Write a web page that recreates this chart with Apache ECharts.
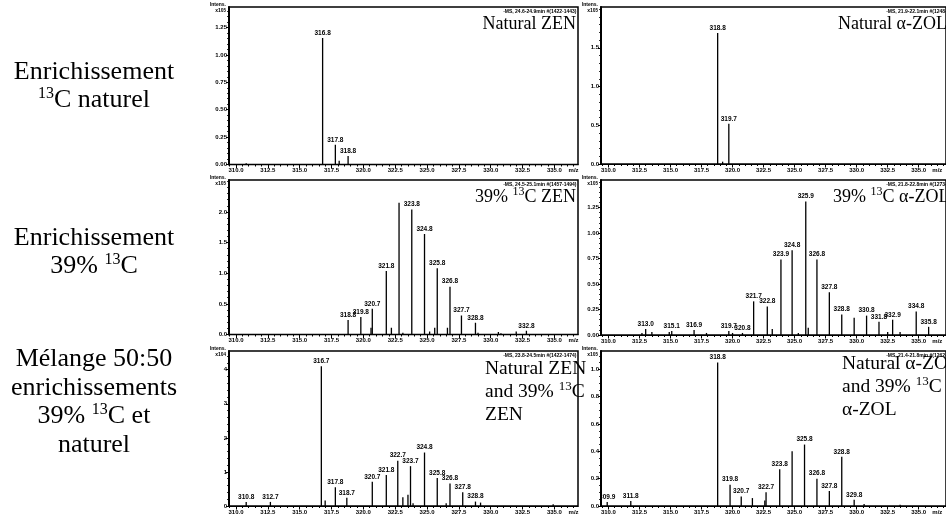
<!DOCTYPE html>
<html>
<head>
<meta charset="utf-8">
<script src="https://cdn.jsdelivr.net/npm/echarts/dist/echarts.min.js"></script>
<style>
html,body{margin:0;padding:0;background:#fff;}
#chart{width:946px;height:515px;}
</style>
</head>
<body>
<div id="chart"></div>
<script>
// ---------- DATA (m/z, intensity, peak label) ----------
// Natural ZEN (x10^5)
const natZenMz  = [310.8, 316.8, 317.8, 318.1, 318.8];
const natZenInt = [0.012, 1.155, 0.18, 0.035, 0.078];
const natZenLab = ['', '316.8', '317.8', '', '318.8'];

// Natural alpha-ZOL (x10^5)
const natZolMz  = [318.8, 319.2, 319.7];
const natZolInt = [1.69, 0.03, 0.52];
const natZolLab = ['318.8', '', '319.7'];

// 39% 13C ZEN (x10^5)
const encZenMz  = [318.8, 319.8, 320.6, 320.7, 321.8, 322.2, 322.8, 323.1, 323.8, 324.8, 325.2, 325.6, 325.8, 326.6, 326.8, 327.7, 328.8, 329.0, 330.6, 330.8, 332.0, 332.8];
const encZenInt = [0.236, 0.285, 0.11, 0.42, 1.034, 0.11, 2.15, 0.03, 2.04, 1.64, 0.05, 0.11, 1.08, 0.11, 0.78, 0.31, 0.19, 0.03, 0.04, 0.02, 0.05, 0.06];
const encZenLab = ['318.8','319.8','','320.7','321.8','','','','323.8','324.8','','','325.8','','326.8','327.7','328.8','','','','','332.8'];

// 39% 13C alpha-ZOL (x10^5)
const encZolMz  = [312.7, 313.0, 313.5, 314.9, 315.1, 316.9, 317.9, 319.7, 320.0, 320.8, 321.7, 322.8, 323.2, 323.9, 324.8, 325.3, 325.9, 326.1, 326.8, 327.8, 328.8, 329.8, 330.8, 331.8, 332.5, 332.9, 333.5, 334.8, 335.8];
const encZolInt = [0.02, 0.06, 0.03, 0.03, 0.04, 0.05, 0.02, 0.04, 0.02, 0.02, 0.33, 0.28, 0.06, 0.74, 0.83, 0.02, 1.31, 0.07, 0.74, 0.42, 0.20, 0.17, 0.19, 0.13, 0.03, 0.15, 0.03, 0.23, 0.08];
const encZolLab = ['','313.0','','','315.1','316.9','','319.7','','320.8','321.7','322.8','','323.9','324.8','','325.9','','326.8','327.8','328.8','','330.8','331.8','','332.9','','334.8','335.8'];

// Mix natural + 39% 13C ZEN (x10^4)
const mixZenMz  = [310.8, 312.7, 316.7, 317.0, 317.8, 318.7, 320.7, 321.8, 322.7, 323.1, 323.5, 323.7, 323.9, 324.8, 325.8, 326.5, 326.8, 327.8, 328.8, 329.2, 334.9];
const mixZenInt = [0.12, 0.12, 4.1, 0.16, 0.55, 0.24, 0.71, 0.91, 1.33, 0.26, 0.33, 1.17, 0.08, 1.57, 0.82, 0.08, 0.66, 0.40, 0.13, 0.10, 0.05];
const mixZenLab = ['310.8','312.7','316.7','','317.8','318.7','320.7','321.8','322.7','','','323.7','','324.8','325.8','','326.8','327.8','328.8','',''];

// Mix natural + 39% 13C alpha-ZOL (x10^5)
const mixZolMz  = [309.9, 311.8, 318.8, 319.8, 320.7, 321.6, 322.6, 322.7, 323.8, 324.8, 325.8, 326.8, 327.8, 328.8, 329.8, 330.6, 333.5];
const mixZolInt = [0.03, 0.036, 1.05, 0.156, 0.07, 0.058, 0.04, 0.10, 0.27, 0.40, 0.45, 0.20, 0.11, 0.36, 0.045, 0.015, 0.01];
const mixZolLab = ['309.9','311.8','318.8','319.8','320.7','','','322.7','323.8','','325.8','326.8','327.8','328.8','329.8','',''];

// Tick labels
const xTickLabels = [310.0, 312.5, 315.0, 317.5, 320.0, 322.5, 325.0, 327.5, 330.0, 332.5, 335.0];
const yTicksNatZen = [0, 0.25, 0.50, 0.75, 1.00, 1.25];
const yTicksNatZol = [0, 0.5, 1.0, 1.5];
const yTicksEncZen = [0, 0.5, 1.0, 1.5, 2.0];
const yTicksEncZol = [0, 0.25, 0.50, 0.75, 1.00, 1.25];
const yTicksMixZen = [0, 1, 2, 3, 4];
const yTicksMixZol = [0, 0.2, 0.4, 0.6, 0.8, 1.0];

// ---------- LAYOUT ----------
const SERIF = '"Liberation Serif","Times New Roman",serif';
const SANS = '"Liberation Sans",Arial,sans-serif';

const panels = [
  {mz:natZenMz, it:natZenInt, lab:natZenLab, left:229, top:7,   width:349, height:157.5, xMin:309.45, xMax:336.85, yMax:1.437, yTicks:yTicksNatZen, dec:2, minor:0.05, exp:'5', header:'-MS, 24.6-24.9min #(1422-1443)'},
  {mz:natZolMz, it:natZolInt, lab:natZolLab, left:601, top:7,   width:360, height:157,   xMin:309.4,  xMax:337.2,  yMax:2.026, yTicks:yTicksNatZol, dec:1, minor:0.1,  exp:'5', header:'-MS, 21.9-22.1min #(1248-1262)'},
  {mz:encZenMz, it:encZenInt, lab:encZenLab, left:229, top:180, width:349, height:154.5, xMin:309.45, xMax:336.85, yMax:2.52,  yTicks:yTicksEncZen, dec:1, minor:0.1,  exp:'5', header:'-MS, 24.5-25.1min #(1457-1494)'},
  {mz:encZolMz, it:encZolInt, lab:encZolLab, left:601, top:180, width:360, height:155,   xMin:309.4,  xMax:337.2,  yMax:1.52,  yTicks:yTicksEncZol, dec:2, minor:0.05, exp:'5', header:'-MS, 21.8-22.8min #(1273-1330)'},
  {mz:mixZenMz, it:mixZenInt, lab:mixZenLab, left:229, top:351, width:349, height:159,   xMin:309.45, xMax:336.85, yMax:4.55,  yTicks:yTicksMixZen, dec:0, minor:0.2,  exp:'4', header:'-MS, 23.8-24.5min #(1422-1474)'},
  {mz:mixZolMz, it:mixZolInt, lab:mixZolLab, left:601, top:351, width:360, height:159,   xMin:309.4,  xMax:337.2,  yMax:1.135, yTicks:yTicksMixZol, dec:1, minor:0.05, exp:'5', header:'-MS, 21.4-21.8min #(1262-1286)'}
];

function range(a, b, step) {
  const out = [];
  for (let k = 0; a + k * step <= b + 1e-9; k++) out.push(Math.round((a + k * step) * 1000) / 1000);
  return out;
}
const xMinorTicks = range(309.5, 337, 0.5);

function makeRender(labels) {
  return function (params, api) {
    const x = api.value(0), y = api.value(1);
    const p0 = api.coord([x, 0]);
    const p1 = api.coord([x, y]);
    const children = [{
      type: 'line',
      shape: {x1: p0[0], y1: p0[1], x2: p1[0], y2: p1[1]},
      style: {stroke: '#000', lineWidth: 1.3}
    }];
    const t = labels[params.dataIndex];
    if (t) {
      children.push({
        type: 'text',
        style: {text: t, x: p1[0], y: p1[1] - 1.5, align: 'center', verticalAlign: 'bottom',
                textAlign: 'center', textVerticalAlign: 'bottom',
                font: 'bold 6.5px ' + SANS, fill: '#000'}
      });
    }
    return {type: 'group', children: children};
  };
}

const option = {
  animation: false,
  backgroundColor: '#fff',
  grid: [], xAxis: [], yAxis: [], series: [], graphic: []
};

const axLab = {fontSize: 6, fontWeight: 'bold', fontFamily: SANS, color: '#000'};

panels.forEach(function (p, i) {
  option.grid.push({left: p.left, top: p.top, width: p.width, height: p.height,
    show: true, borderColor: '#000', borderWidth: 1.5, backgroundColor: 'transparent'});
  option.xAxis.push({type: 'value', gridIndex: i, min: p.xMin, max: p.xMax, position: 'bottom',
    axisLine: {show: true, onZero: false, lineStyle: {color: '#000', width: 1.2}},
    axisTick: {show: true, customValues: xTickLabels, length: 3.5, lineStyle: {color: '#000', width: 1}},
    axisLabel: Object.assign({show: true, margin: 3, customValues: xTickLabels.concat([336.5]),
      formatter: function (v) { return v > 336 ? 'm/z' : Number(v).toFixed(1); }}, axLab),
    splitLine: {show: false}});
  option.xAxis.push({type: 'value', gridIndex: i, min: p.xMin, max: p.xMax, position: 'bottom',
    axisLine: {show: false, onZero: false},
    axisTick: {show: true, customValues: xMinorTicks, length: 2, lineStyle: {color: '#000', width: 1}},
    axisLabel: {show: false}, splitLine: {show: false}});
  option.yAxis.push({type: 'value', gridIndex: i, min: 0, max: p.yMax, position: 'left',
    axisLine: {show: true, onZero: false, lineStyle: {color: '#000', width: 2}},
    axisTick: {show: true, customValues: p.yTicks, length: 3, lineStyle: {color: '#000', width: 1}},
    axisLabel: Object.assign({show: true, margin: 2, customValues: p.yTicks,
      formatter: function (v) { return Number(v).toFixed(p.dec); }}, axLab),
    splitLine: {show: false}});
  option.yAxis.push({type: 'value', gridIndex: i, min: 0, max: p.yMax, position: 'left',
    axisLine: {show: false, onZero: false},
    axisTick: {show: true, customValues: range(0, p.yMax, p.minor), length: 1.8, lineStyle: {color: '#000', width: 1}},
    axisLabel: {show: false}, splitLine: {show: false}});

  option.series.push({
    type: 'custom', xAxisIndex: 2 * i, yAxisIndex: 2 * i,
    data: p.mz.map(function (m, k) { return [m, p.it[k]]; }),
    encode: {x: 0, y: 1},
    renderItem: makeRender(p.lab),
    clip: true
  });

  option.graphic.push({type: 'text', x: p.left - 3, y: Math.max(p.top - 4.5, 0.5),
    style: {text: 'Intens.', font: 'bold 5px ' + SANS, fill: '#000', align: 'right', textAlign: 'right', verticalAlign: 'top', textVerticalAlign: 'top'}});
  option.graphic.push({type: 'text', x: p.left - 3, y: Math.max(p.top - 4.5, 0.5) + 6,
    style: {text: 'x10{s|' + p.exp + '}', font: 'bold 5px ' + SANS, fill: '#000', align: 'right', textAlign: 'right', verticalAlign: 'top', textVerticalAlign: 'top',
      rich: {s: {fontSize: 4.5, fontWeight: 'bold', fontFamily: SANS, verticalAlign: 'top', lineHeight: 4}}}});
  option.graphic.push({type: 'text', x: p.left + p.width - 1.5, y: p.top + 2.5,
    style: {text: p.header, font: 'bold 5px ' + SANS, fill: '#000', align: 'right', textAlign: 'right', verticalAlign: 'top', textVerticalAlign: 'top'}});
});

function richRow(sz, sup, lh) {
  return {n: {fontSize: sz, fontFamily: SERIF, lineHeight: lh, fill: '#000', color: '#000'},
          s: {fontSize: sup, fontFamily: SERIF, lineHeight: sup, verticalAlign: 'top', fill: '#000', color: '#000'}};
}
const rowRich = richRow(26, 16, 28.5);
const rowTexts = [
  {y: 86,  text: '{n|Enrichissement}\n{s|13}{n|C naturel}'},
  {y: 252, text: '{n|Enrichissement}\n{n|39% }{s|13}{n|C}'},
  {y: 402, text: '{n|Mélange 50:50}\n{n|enrichissements}\n{n|39% }{s|13}{n|C et}\n{n|naturel}'}
];
rowTexts.forEach(function (r) {
  option.graphic.push({type: 'text', x: 94, y: r.y,
    style: {text: r.text, rich: rowRich, align: 'center', textAlign: 'center', verticalAlign: 'middle', textVerticalAlign: 'middle', fill: '#000'}});
});

const tRich = richRow(18, 12, 22);
const tRich3 = richRow(19.5, 13, 23);
const titles = [
  {x: 576, y: 24,  align: 'right', rich: tRich, text: '{n|Natural ZEN}'},
  {x: 838, y: 24,  align: 'left',  rich: tRich, text: '{n|Natural α-ZOL}'},
  {x: 576, y: 197, align: 'right', rich: tRich, text: '{n|39% }{s|13}{n|C ZEN}'},
  {x: 833, y: 197, align: 'left',  rich: tRich, text: '{n|39% }{s|13}{n|C α-ZOL}'},
  {x: 485, y: 392, align: 'left',  rich: tRich3, text: '{n|Natural ZEN}\n{n|and 39% }{s|13}{n|C}\n{n|ZEN}'},
  {x: 842, y: 387, align: 'left',  rich: tRich3, text: '{n|Natural α-ZOL}\n{n|and 39% }{s|13}{n|C}\n{n|α-ZOL}'}
];
titles.forEach(function (t) {
  option.graphic.push({type: 'text', x: t.x, y: t.y,
    style: {text: t.text, rich: t.rich, align: t.align, textAlign: t.align, verticalAlign: 'middle', textVerticalAlign: 'middle', fill: '#000'}});
});

const chart = echarts.init(document.getElementById('chart'), null, {renderer: 'canvas'});
chart.setOption(option);
</script>
</body>
</html>
